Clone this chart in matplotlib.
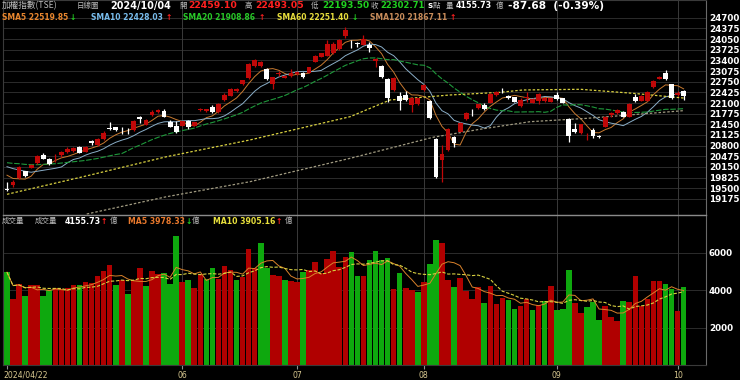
import matplotlib
matplotlib.use('Agg')
import matplotlib.pyplot as plt
import matplotlib.transforms as mtransforms
import numpy as np
import pandas as pd

# --- data (TAIEX daily, 2024/04/22 .. 2024/10/04) ---
opens = [19489, 19590, 19804, 20017, 20129, 20261, 20525, 20383, 20380, 20505,
         20617, 20647, 20749, 20617, 20942, 20820, 21003, 21338, 21358, 21287,
         21257, 21277, 21683, 21440, 21724, 21826, 21856, 21521, 21399, 21409,
         21551, 21409, 21876, 21856, 21988, 21836, 22191, 22324, 22456, 22679,
         22852, 23228, 23228, 23136, 22679, 22994, 22872, 22923, 22994, 23025,
         23025, 23360, 23512, 23543, 23634, 23736, 24142, 23938, 23928, 23868,
         23868, 23380, 23238, 22821, 22496, 22313, 22344, 22039, 22070, 22496,
         22171, 21003, 20363, 20667, 21074, 21226, 21612, 21866, 21937, 22039,
         22110, 22344, 22476, 22324, 22273, 22009, 22263, 22110, 22171, 22161,
         22141, 22344, 22242, 21602, 21297, 21176, 21145, 21277, 21094, 21379,
         21724, 21785, 21836, 21683, 22293, 22171, 22171, 22578, 22842, 23004,
         22669, 22330, 22459.10]
highs = [19702, 19753, 20180, 20038, 20241, 20525, 20566, 20434, 20535, 20647,
         20749, 20749, 20779, 20779, 20972, 21023, 21236, 21531, 21379, 21358,
         21328, 21582, 21704, 21602, 21887, 21927, 21907, 21582, 21561, 21561,
         21582, 21531, 21947, 21927, 22029, 22110, 22395, 22547, 22557, 22812,
         23309, 23431, 23380, 23157, 22902, 23075, 22953, 23126, 23090, 23045,
         23207, 23553, 23634, 24020, 23969, 24040, 24417, 24020, 23969, 24173,
         23969, 23461, 23258, 22852, 22892, 22445, 22466, 22293, 22263, 22669,
         22191, 21023, 20820, 21328, 21094, 21520, 21836, 21907, 22080, 22090,
         22395, 22466, 22547, 22344, 22293, 22242, 22445, 22242, 22415, 22283,
         22263, 22445, 22263, 21633, 21480, 21470, 21196, 21328, 21115, 21704,
         21836, 21907, 21856, 22090, 22364, 22334, 22466, 22801, 22923, 23106,
         22690, 22466, 22493.05]
lows = [19430, 19550, 19784, 19855, 20109, 20241, 20383, 20220, 20312, 20464,
        20586, 20617, 20566, 20597, 20830, 20800, 20982, 21277, 21247, 21145,
        21155, 21257, 21500, 21420, 21704, 21806, 21663, 21369, 21196, 21389,
        21308, 21399, 21856, 21836, 21795, 21805, 22170, 22303, 22436, 22659,
        22832, 23208, 23200, 22811, 22527, 22923, 22852, 22902, 22960, 22862,
        23005, 23340, 23492, 23523, 23593, 23716, 24081, 23767, 23817, 23858,
        23665, 23207, 22862, 22141, 22476, 21887, 22161, 21836, 22039, 22466,
        21612, 19804, 19702, 20647, 20769, 21206, 21592, 21704, 21917, 21897,
        22090, 22324, 22415, 22222, 22120, 21968, 22141, 22090, 22070, 22141,
        22120, 22191, 22090, 20921, 21186, 21155, 20972, 21023, 21033, 21358,
        21683, 21765, 21663, 21663, 22141, 22150, 22150, 22557, 22821, 22811,
        22222, 22300, 22193.50]
closes = [19438, 19692, 20139, 19875, 20210, 20495, 20403, 20241, 20395, 20606,
          20708, 20718, 20586, 20749, 20871, 21003, 21196, 21308, 21277, 21267,
          21247, 21561, 21622, 21582, 21836, 21887, 21673, 21379, 21206, 21541,
          21379, 21511, 21927, 21907, 21815, 22070, 22344, 22517, 22527, 22791,
          23279, 23411, 23350, 22821, 22882, 23014, 22923, 23025, 23044, 22882,
          23187, 23533, 23614, 23888, 23898, 24020, 24325, 23918, 23908, 24040,
          23766, 23431, 22882, 22263, 22872, 22161, 22191, 22242, 22242, 22649,
          21633, 19855, 20546, 21308, 20891, 21500, 21785, 21856, 22059, 21917,
          22374, 22445, 22466, 22242, 22141, 22191, 22273, 22222, 22374, 22263,
          22242, 22222, 22110, 21094, 21206, 21450, 21155, 21094, 21054, 21683,
          21785, 21887, 21683, 22070, 22171, 22313, 22445, 22781, 22903, 22821,
          22242, 22390, 22302.71]
volumes = [4968, 3537, 4357, 3680, 4270, 4270, 3680, 4019, 4126, 4073,
           4126, 4270, 4270, 4447, 4400, 4750, 5019, 5376, 4270, 4537,
           3823, 4537, 5215, 4255, 5019, 4893, 4947, 4357, 6913, 4430,
           4555, 4126, 4893, 4626, 5198, 4608, 5322, 5108, 4573, 4716,
           6216, 5198, 6538, 5198, 4840, 4750, 4537, 4483, 4430, 4966,
           5073, 5537, 4930, 5680, 6126, 5269, 5770, 6037, 4750, 4787,
           5609, 6091, 5644, 5734, 4073, 4930, 4126, 4000, 3912, 4430,
           5430, 6680, 6538, 4573, 4162, 4662, 3947, 3537, 4180, 3323,
           4251, 3286, 3590, 3483, 3001, 3180, 3537, 2965, 3198, 3447,
           4215, 2965, 3019, 5108, 3323, 2787, 3108, 3376, 2394, 3180,
           2572, 2376, 3412, 3358, 4750, 3144, 3555, 4483, 4483, 4357,
           4073, 2876, 4155.73]
# volume bar colour: 1 = red (up day), 0 = green (down day)
vol_up = [0, 1, 1, 0, 1, 1, 0, 0, 1, 1, 1, 1, 0, 1, 1, 1, 1, 1, 0, 1,
          0, 1, 1, 0, 1, 1, 0, 0, 0, 1, 0, 1, 1, 0, 0, 1, 1, 1, 0, 1,
          1, 1, 0, 0, 1, 1, 0, 1, 1, 0, 1, 1, 1, 1, 1, 1, 1, 0, 0, 1,
          0, 0, 0, 0, 1, 0, 1, 1, 0, 1, 0, 0, 1, 1, 0, 1, 1, 1, 1, 0,
          1, 1, 1, 0, 0, 1, 1, 0, 1, 0, 1, 0, 0, 0, 1, 1, 0, 0, 0, 1,
          1, 1, 0, 1, 1, 1, 1, 1, 1, 0, 0, 1, 0]

# moving averages at the left edge (history before the window)
sma5_head = [19900, 19800, 19790, 19780]
sma10_head = [20160, 20100, 20060, 20020, 19990, 20020, 20050, 20080, 20110]
sma20_head = [20280, 20260, 20250, 20230, 20220, 20220, 20230, 20240, 20250, 20270,
              20290, 20310, 20330, 20350, 20380, 20410, 20450, 20490, 20530]
sma60_x = [0, 12.6, 26.4, 40.2, 56.8, 63.4, 73.3, 81.6, 85.4, 94.9, 103.6, 112]
sma60_v = [19318, 19854, 20463, 20973, 21683, 22192, 22344, 22425, 22497, 22518, 22396, 22251]
sma120_x = [13.2, 26.4, 40.2, 56.8, 70.5, 78.3, 86.6, 96, 112]
sma120_v = [18717, 19244, 19701, 20414, 21055, 21300, 21531, 21633, 21867]

tick_idx = [0, 29, 48, 69, 91, 111]
tick_lbl = ['2024/04/22', '06', '07', '08', '09', '10']
price_ticks = list(range(24700, 19100, -325))
vol_ticks = [2000, 4000, 6000]

CJK = ['Noto Sans CJK TC', 'DejaVu Sans']
RED = '#c00808'
VRED = '#b00000'
VGREEN = '#0ea80e'
GRID = '#2c2c2c'
GRAY = '#bcbcbc'

n = len(closes)
x = np.arange(n)
o = np.array(opens); c = np.array(closes); h = np.array(highs); l = np.array(lows)
cl = pd.Series(closes)


def with_head(win, head):
    ma = cl.rolling(win).mean().to_numpy()
    ma[:len(head)] = head
    return ma


sma5 = with_head(5, sma5_head)
sma10 = with_head(10, sma10_head)
sma20 = with_head(20, sma20_head)
vs = pd.Series(volumes)
vma5 = vs.rolling(5, min_periods=1).mean()
vma10 = vs.rolling(10, min_periods=1).mean()

W, H = 740, 380
fig = plt.figure(figsize=(W / 100, H / 100), dpi=100, facecolor='black')
x0, x1 = 3, 706
ax1 = fig.add_axes([x0 / W, 1 - 215 / H, (x1 - x0) / W, 215 / H], facecolor='black')
ax2 = fig.add_axes([x0 / W, 15 / H, (x1 - x0) / W, 150 / H], facecolor='black')

xlim = (-0.66, 115.7)

# price panel
ax1.set_xlim(*xlim)
ax1.set_ylim(18687, 25239)
for t in price_ticks:
    ax1.axhline(t, color=GRID, lw=0.7, zorder=0)
for t in tick_idx[1:]:
    ax1.axvline(t, color='#3a3a3a', lw=0.7, zorder=0)

up = c >= o
col = np.where(up, RED, '#ffffff')
ax1.vlines(x, l, h, colors=col, lw=0.9, zorder=3)
body = np.maximum(np.abs(c - o), 14)
ax1.bar(x, body, bottom=np.minimum(o, c), width=0.8, color=col, lw=0, zorder=4)

ax1.plot(x, sma5, color='#c87a30', lw=0.7, zorder=2)
ax1.plot(x, sma10, color='#8aaec8', lw=0.7, zorder=2)
ax1.plot(x, sma20, color='#1f9a3c', lw=0.8, ls=(0, (5, 1.5)), zorder=2)
ax1.plot(sma60_x, sma60_v, color='#d8d040', lw=0.9, ls=(0, (2, 1.5)), zorder=2)
ax1.plot(sma120_x, sma120_v, color='#a09a80', lw=0.9, ls=(0, (2, 1.5)), zorder=2)

ax1.yaxis.tick_right()
ax1.set_yticks(price_ticks)
ax1.set_yticklabels([str(t) for t in price_ticks], color='white', fontsize=6.3,
                    fontweight='bold')
ax1.tick_params(axis='y', length=0, pad=2)
ax1.set_xticks([])

# volume panel
ax2.set_xlim(*xlim)
ax2.set_ylim(0, 8032)
for t in vol_ticks:
    ax2.axhline(t, color=GRID, lw=0.7, zorder=0)
for t in tick_idx[1:]:
    ax2.axvline(t, color='#3a3a3a', lw=0.7, zorder=0)
vcol = [VRED if u else VGREEN for u in vol_up]
ax2.bar(x, volumes, width=0.92, color=vcol, lw=0, zorder=2)
ax2.plot(x, vma5, color='#d9822b', lw=0.7, zorder=3)
ax2.plot(x, vma10, color='#d8d040', lw=0.8, ls=(0, (3, 1.5)), zorder=3)
ax2.yaxis.tick_right()
ax2.set_yticks(vol_ticks)
ax2.set_yticklabels([str(t) for t in vol_ticks], color='white', fontsize=6.3,
                    fontweight='bold')
ax2.tick_params(axis='y', length=0, pad=2)
ax2.set_xticks(tick_idx)
ax2.set_xticklabels([])
ax2.tick_params(axis='x', length=3, color='#909090', width=0.8)
tr = mtransforms.blended_transform_factory(ax2.transData, ax2.transAxes)
for i, (t, s) in enumerate(zip(tick_idx, tick_lbl)):
    ax2.text(t - 0.6 if i == 0 else t, -0.07, s, transform=tr, color='#d8c890',
             fontsize=5.6, ha='left' if i == 0 else 'center', va='center')

for ax in (ax1, ax2):
    for s in ax.spines.values():
        s.set_color('#3a3a3a')
    ax.spines['right'].set_color('#6a6a6a')
ax2.spines['top'].set_color('#8a8a8a')
ax2.spines['top'].set_linewidth(1.0)


def put(px, py, s, color, bold=True, size=6.6, fam=None):
    fig.text(px / W, 1 - py / H, s, color=color, fontsize=size,
             fontweight='bold' if bold else 'normal', va='center', ha='left',
             family=fam if fam else 'DejaVu Sans')


def cjk(px, py, s, size=5.4):
    put(px, py, s, GRAY, bold=False, size=size, fam=CJK)


# header row 1
cjk(2, 6, '加權指數(TSE)', size=6.2)
cjk(77, 6, '日線圖')
put(110, 6, '2024/10/04', 'white', size=6.9)
cjk(179, 6, '開')
put(188, 6, '22459.10', '#ff2020', size=6.7)
cjk(245, 6, '高')
put(255, 6, '22493.05', '#ff2020', size=6.7)
cjk(311, 6, '低')
put(322, 6, '22193.50', '#20d020', size=6.5)
cjk(371, 6, '收')
put(380, 6, '22302.71', '#20d020', size=6.1)
put(427, 6, 's', 'white', size=6.1)
cjk(433, 6, '點')
cjk(446, 6, '量')
put(456, 6, '4155.73', 'white', size=5.8)
cjk(496, 6, '億')
put(508, 6, '-87.68  (-0.39%)', 'white', size=7.6)

# header row 2 (moving averages)
put(2, 18, 'SMA5 22519.85', '#e8862e', size=5.5)
put(70, 18, '↓', '#20d020', size=5.5)
put(91, 18, 'SMA10 22428.03', '#78bcec', size=5.5)
put(166, 18, '↑', '#ff2020', size=5.5)
put(183, 18, 'SMA20 21908.86', '#28c828', size=5.5)
put(259, 18, '↑', '#ff2020', size=5.5)
put(277, 18, 'SMA60 22251.40', '#e6dc3c', size=5.5)
put(352, 18, '↓', '#20d020', size=5.5)
put(370, 18, 'SMA120 21867.11', '#c88c5a', size=5.5)
put(450, 18, '↑', '#ff2020', size=5.5)

# volume header
cjk(2, 221, '成交量')
cjk(35, 221, '成交量')
put(65, 221, '4155.73', 'white', size=5.8)
put(101, 221, '↑', '#ff2020', size=5.5)
cjk(110, 221, '億')
put(128, 221, 'MA5 3978.33', '#e8782c', size=5.6)
put(186, 221, '↓', '#20d020', size=5.5)
cjk(192, 221, '億')
put(213, 221, 'MA10 3905.16', '#e8e03c', size=5.6)
put(276, 221, '↑', '#ff2020', size=5.5)
cjk(285, 221, '億')

fig.savefig('out.png', dpi=100, facecolor='black')
